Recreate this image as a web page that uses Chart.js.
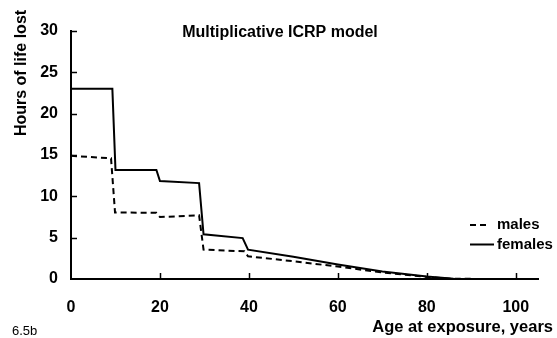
<!DOCTYPE html>
<html>
<head>
<meta charset="utf-8">
<script src="https://cdn.jsdelivr.net/npm/chart.js@4.4.1/dist/chart.umd.min.js"></script>
<style>
html,body{margin:0;padding:0;background:#fff;}
#wrap{width:557px;height:338px;position:relative;}
</style>
</head>
<body>
<div id="wrap"><canvas id="c" width="557" height="338"></canvas></div>
<script>
// ---- data ----
const femaleAges = [0, 9.3, 10, 19.2, 20, 28.8, 29.8, 38.6, 39.8, 50, 60, 70, 80, 86, 105];
const femaleHours = [23, 23, 13.2, 13.2, 11.85, 11.6, 5.4, 4.95, 3.55, 2.7, 1.75, 0.9, 0.3, 0.03, 0];
const maleAges = [0, 9, 9.9, 19.2, 20, 28.8, 29.8, 39, 39.8, 50, 60, 70, 80, 86, 105];
const maleHours = [14.9, 14.6, 8.05, 8.0, 7.5, 7.7, 3.55, 3.35, 2.75, 2.15, 1.5, 0.8, 0.25, 0.02, 0];
const xTicks = [0, 20, 40, 60, 80, 100];
const yTicks = [0, 5, 10, 15, 20, 25, 30];
const titleText = 'Multiplicative ICRP model';
const yTitle = 'Hours of life lost';
const xTitle = 'Age at exposure, years';
const figLabel = '6.5b';
const legendLabels = ['males', 'females'];

const FONT = '"Liberation Sans", Arial, Helvetica, sans-serif';

const pts = (xs, ys) => xs.map((x, i) => ({x: x, y: ys[i]}));

const decor = {
  id: 'decor',
  afterDraw(chart) {
    const ctx = chart.ctx;
    const xs = chart.scales.x, ys = chart.scales.y;
    const ca = chart.chartArea;
    ctx.save();
    ctx.strokeStyle = '#000';
    ctx.lineWidth = 1.5;
    // inward tick marks
    yTicks.forEach(v => {
      if (v === 0) return;
      const py = Math.round(ys.getPixelForValue(v)) + 0.5;
      ctx.beginPath(); ctx.moveTo(ca.left, py); ctx.lineTo(ca.left + 6, py); ctx.stroke();
    });
    xTicks.forEach(v => {
      if (v === 0) return;
      const px = Math.round(xs.getPixelForValue(v)) + 0.5;
      ctx.beginPath(); ctx.moveTo(px, ca.bottom); ctx.lineTo(px, ca.bottom - 6); ctx.stroke();
    });
    ctx.fillStyle = '#000';
    // title
    ctx.font = 'bold 16px ' + FONT;
    ctx.textAlign = 'center';
    ctx.textBaseline = 'middle';
    ctx.fillText(titleText, 280, 33);
    // y title
    ctx.save();
    ctx.translate(22, 73);
    ctx.rotate(-Math.PI / 2);
    ctx.font = 'bold 16px ' + FONT;
    ctx.fillText(yTitle, 0, 0);
    ctx.restore();
    // x title
    ctx.font = 'bold 16.5px ' + FONT;
    ctx.textAlign = 'right';
    ctx.fillText(xTitle, 553, 327);
    // fig label
    ctx.font = '13px ' + FONT;
    ctx.textAlign = 'left';
    ctx.fillText(figLabel, 12, 331);
    // legend
    ctx.lineWidth = 2;
    ctx.setLineDash([6, 4]);
    ctx.beginPath(); ctx.moveTo(470, 225); ctx.lineTo(486, 225); ctx.stroke();
    ctx.setLineDash([]);
    ctx.beginPath(); ctx.moveTo(470, 244.5); ctx.lineTo(494, 244.5); ctx.stroke();
    ctx.font = 'bold 15px ' + FONT;
    ctx.fillText(legendLabels[0], 497, 225);
    ctx.fillText(legendLabels[1], 497, 244.5);
    ctx.restore();
  }
};

new Chart(document.getElementById('c'), {
  type: 'line',
  data: {
    datasets: [
      {label: legendLabels[0], data: pts(maleAges, maleHours), borderColor: '#000', borderWidth: 2,
       borderDash: [6, 4], pointRadius: 0, fill: false, tension: 0},
      {label: legendLabels[1], data: pts(femaleAges, femaleHours), borderColor: '#000', borderWidth: 2,
       pointRadius: 0, fill: false, tension: 0}
    ]
  },
  options: {
    responsive: false,
    animation: false,
    events: [],
    layout: {padding: {top: 31, right: 19, left: 0, bottom: 0}},
    plugins: {legend: {display: false}, tooltip: {enabled: false}, title: {display: false}},
    scales: {
      x: {
        type: 'linear', min: 0, max: 105,
        afterBuildTicks: s => { s.ticks = xTicks.map(v => ({value: v})); },
        afterFit: s => { s.height = 59; },
        ticks: {color: '#000', font: {family: FONT, size: 16, weight: 'bold'}, padding: 19, autoSkip: false, maxRotation: 0},
        grid: {display: true, drawOnChartArea: false, drawTicks: false},
        border: {display: true, color: '#000', width: 2}
      },
      y: {
        type: 'linear', min: 0, max: 30,
        afterBuildTicks: s => { s.ticks = yTicks.map(v => ({value: v})); },
        afterFit: s => { s.width = 71; },
        ticks: {color: '#000', font: {family: FONT, size: 16, weight: 'bold'}, padding: 13, autoSkip: false},
        grid: {display: true, drawOnChartArea: false, drawTicks: false},
        border: {display: true, color: '#000', width: 2}
      }
    }
  },
  plugins: [decor]
});
</script>
</body>
</html>
